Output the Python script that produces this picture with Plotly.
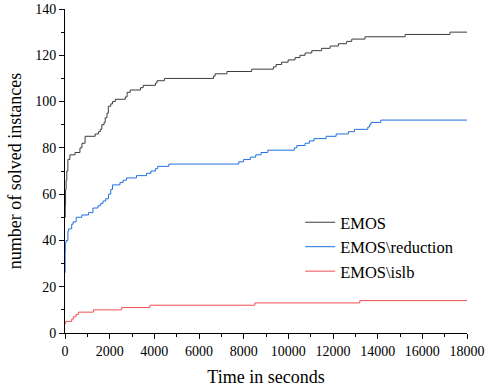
import plotly.graph_objects as go

# EMOS
emos_t = [0, 10, 25, 50, 80, 130, 220, 450, 670, 760, 900, 1350, 1500, 1580, 1650, 1750, 1800,
          1880, 1940, 2050, 2130, 2250, 2700, 2780, 2920, 3380, 3500, 4050, 4120, 4450, 6650,
          6720, 7250, 8360, 9330, 9450, 9700, 9990, 10300, 10520, 10750, 11050, 11490, 11870,
          12240, 12610, 12840, 13430, 15230, 17240, 18000]
emos_v = [50, 55, 62, 66, 70, 75, 77, 78, 80, 82, 85, 86, 87, 88, 90, 91, 93,
          95, 98, 99, 100, 101, 102, 104, 105, 106, 107, 108, 109, 110, 111,
          112, 113, 114, 115, 116, 117, 118, 119, 120, 121, 122, 123, 124,
          125, 126, 127, 128, 129, 130, 130]

# EMOS\reduction
red_t = [0, 5, 15, 50, 130, 160, 300, 360, 500, 750, 1050, 1250, 1480, 1600, 1700, 1820, 1950,
         2050, 2130, 2460, 2600, 2750, 3200, 3650, 3850, 4050, 4150, 4650, 7780, 8000, 8300,
         8540, 8780, 9080, 10270, 10380, 10750, 10940, 11150, 11690, 12140, 12690, 12960,
         13560, 13640, 13700, 14140, 18000]
red_v = [26, 35, 39, 40, 44, 45, 47, 48, 50, 51, 52, 54, 55, 56, 57, 58, 60,
         62, 64, 65, 66, 67, 68, 69, 70, 71, 72, 73, 74, 75, 76,
         77, 78, 79, 80, 81, 82, 83, 84, 85, 86, 87, 88,
         89, 90, 91, 92, 92]

# EMOS\islb
islb_t = [0, 30, 300, 370, 490, 600, 1270, 2540, 3800, 8500, 13200, 18000]
islb_v = [4, 5, 6, 7, 8, 9, 10, 11, 12, 13, 14, 14]

x_ticks = [0, 2000, 4000, 6000, 8000, 10000, 12000, 14000, 16000, 18000]
y_ticks = [0, 20, 40, 60, 80, 100, 120, 140]

FONT = "Liberation Serif, Times New Roman, serif"

fig = go.Figure()
fig.add_trace(go.Scatter(x=emos_t, y=emos_v, mode="lines", line_shape="hv",
                         line=dict(color="#3c3c3c", width=1), name="EMOS"))
fig.add_trace(go.Scatter(x=red_t, y=red_v, mode="lines", line_shape="hv",
                         line=dict(color="#2070e0", width=1), name="EMOS\\reduction"))
fig.add_trace(go.Scatter(x=islb_t, y=islb_v, mode="lines", line_shape="hv",
                         line=dict(color="#f05050", width=1), name="EMOS\\islb"))

axis_common = dict(showline=True, linecolor="black", linewidth=1, showgrid=False,
                   zeroline=False, ticks="outside", ticklen=5, tickcolor="black",
                   tickfont=dict(family=FONT, size=14, color="black"), automargin=False)

fig.update_xaxes(range=[0, 18000], tickvals=x_ticks, ticktext=[str(v) for v in x_ticks],
                 title=dict(text="Time in seconds", font=dict(family=FONT, size=18, color="black"), standoff=12),
                 minor=dict(ticks="outside", ticklen=3, dtick=1000, tickcolor="black"),
                 **axis_common)
fig.update_yaxes(range=[0, 140], tickvals=y_ticks,
                 title=dict(text="number of solved instances", font=dict(family=FONT, size=18, color="black"), standoff=8),
                 minor=dict(ticks="outside", ticklen=3, dtick=10, tickcolor="black"),
                 **axis_common)

fig.update_layout(width=493, height=392, margin=dict(l=65, r=26, t=9, b=59),
                  plot_bgcolor="white", paper_bgcolor="white",
                  font=dict(family=FONT, size=14, color="black"),
                  legend=dict(x=0.585, y=0.395, xanchor="left", yanchor="top",
                              bgcolor="rgba(0,0,0,0)", font=dict(family=FONT, size=16.5, color="black"),
                              tracegroupgap=0))

fig.write_html("out.html", config={"displayModeBar": False},
               post_script="document.body.style.margin='0';document.body.style.overflow='hidden';")
